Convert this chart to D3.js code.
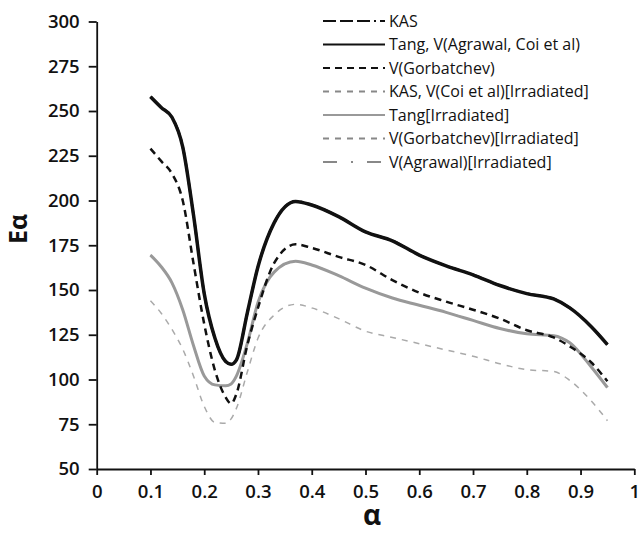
<!DOCTYPE html>
<html>
  <head>
    <meta charset="UTF-8">
    <style>
      body {
        margin: 0;
        background: white;
        font-family: "Open Sans", Helvetica, Arial, sans-serif;
      }

      .axis path, .axis line {
        stroke: #111;
        stroke-width: 1.8;
      }

      .axis text {
        font-family: "Open Sans", sans-serif;
        font-size: 18.5px;
        font-weight: 600;
        fill: #111;
      }
    </style>
    <script src="https://cdn.jsdelivr.net/npm/d3@7"></script>
  </head>

  <body>
    <svg id="Chart"></svg>

    <script type="text/javascript">
      const alphas = [0.10, 0.12, 0.14, 0.16, 0.18, 0.20, 0.22, 0.24, 0.25, 0.26, 0.28, 0.30, 0.33, 0.37,
                      0.40, 0.45, 0.50, 0.55, 0.60, 0.65, 0.70, 0.75, 0.80, 0.85, 0.88, 0.92, 0.95];

      // KAS sits under the Tang curve in the figure
      const kas = [258, 252, 246.5, 230, 192, 148, 123, 110, 108.5, 111, 137, 163, 187.5, 199.5,
                   197.5, 191, 182.5, 177.5, 169.5, 163.5, 158.5, 152.5, 148, 145, 140, 129.5, 119.5];
      const tang = [258, 252, 246.5, 230, 192, 148, 123, 110, 108.5, 111, 137, 163, 187.5, 199.5,
                    197.5, 191, 182.5, 177.5, 169.5, 163.5, 158.5, 152.5, 148, 145, 140, 129.5, 119.5];
      const gorbatchev = [229, 222, 215, 200, 165, 131, 105, 90, 86.5, 92, 119, 140, 165, 175.5,
                          173.5, 168.5, 164, 155.5, 148.5, 143.5, 139, 134, 127.5, 123.5, 118.5, 109.5, 99];
      const kasCoiIrr = [169.5, 163, 154, 139, 119, 102, 97, 96.5, 97.5, 102, 120, 143, 160, 166,
                         164, 158, 151, 145.5, 141.5, 137.5, 133, 128.5, 125.5, 124.5, 120.5, 107, 95.5];
      const tangIrr = [169.5, 163, 154, 139, 119, 102, 97, 96.5, 97.5, 102, 120, 143, 160, 166,
                       164, 158, 151, 145.5, 141.5, 137.5, 133, 128.5, 125.5, 124.5, 120.5, 107, 95.5];
      const gorbatchevIrr = [144, 137, 128, 117, 102, 85, 76, 75.5, 78, 84, 104, 123, 136, 142,
                             140, 134, 127, 123.5, 120, 116.5, 113, 108.8, 105.5, 104.5, 99.5, 88, 77];
      const agrawalIrr = [169.5, 163, 154, 139, 119, 102, 97, 96.5, 97.5, 102, 120, 143, 160, 166,
                          164, 158, 151, 145.5, 141.5, 137.5, 133, 128.5, 125.5, 124.5, 120.5, 107, 95.5];

      const xTicks = [0, 0.1, 0.2, 0.3, 0.4, 0.5, 0.6, 0.7, 0.8, 0.9, 1];
      const yTicks = [50, 75, 100, 125, 150, 175, 200, 225, 250, 275, 300];

      const seriesNames = ['KAS', 'Tang, V(Agrawal, Coi et al)', 'V(Gorbatchev)',
                           'KAS, V(Coi et al)[Irradiated]', 'Tang[Irradiated]',
                           'V(Gorbatchev)[Irradiated]', 'V(Agrawal)[Irradiated]'];

      // drawn in this order, legend keeps seriesNames order
      const series = [
        {name: seriesNames[3], values: kasCoiIrr, color: '#aaa', width: 1.5, dash: '6,6', legendDash: '6,6'},
        {name: seriesNames[6], values: agrawalIrr, color: '#bbb', width: 1.5, dash: '14,8,2,8', legendDash: '14,14,2,14'},
        {name: seriesNames[4], values: tangIrr, color: '#999', width: 3, dash: null, legendDash: null},
        {name: seriesNames[5], values: gorbatchevIrr, color: '#aaa', width: 1.5, dash: '6,6', legendDash: '6,6'},
        {name: seriesNames[2], values: gorbatchev, color: '#111', width: 2.5, dash: '7,5', legendDash: '7,5'},
        {name: seriesNames[0], values: kas, color: '#111', width: 2.5, dash: '13,5,13,5,13,5,2,4', legendDash: '13,4,13,4,13,4,2,4'},
        {name: seriesNames[1], values: tang, color: '#111', width: 3.5, dash: null, legendDash: null}
      ];

      function getConfig() {
        let width = 640;
        let height = 534;
        let container = d3.select('#Chart')
          .attr('width', width)
          .attr('height', height);
        return {width, height, container};
      }

      function getScales() {
        let xScale = d3.scaleLinear()
          .domain([0, 1])
          .range([96.7, 634.3]);
        let yScale = d3.scaleLinear()
          .domain([50, 300])
          .range([469, 21.5]);
        return {xScale, yScale};
      }

      function drawAxes(scales, config) {
        let {xScale, yScale} = scales;
        let {container} = config;

        let axisX = d3.axisBottom(xScale)
          .tickValues(xTicks)
          .tickFormat(d3.format(''))
          .tickSize(6)
          .tickSizeOuter(0)
          .tickPadding(10);
        container.append('g')
          .attr('class', 'axis')
          .attr('transform', `translate(0, ${yScale(50)})`)
          .call(axisX);

        let axisY = d3.axisLeft(yScale)
          .tickValues(yTicks)
          .tickSize(8)
          .tickSizeOuter(0)
          .tickPadding(9);
        container.append('g')
          .attr('class', 'axis')
          .attr('transform', `translate(${xScale(0)}, 0)`)
          .call(axisY);

        container.append('text')
          .attr('transform', 'translate(27, 229) rotate(-90)')
          .attr('text-anchor', 'middle')
          .style('font-family', '"Open Sans", sans-serif')
          .style('font-size', '25px')
          .style('font-weight', 'bold')
          .attr('fill', '#111')
          .text('Eα');

        container.append('text')
          .attr('x', 372)
          .attr('y', 525)
          .attr('text-anchor', 'middle')
          .style('font-family', '"Open Sans", sans-serif')
          .style('font-size', '28px')
          .style('font-weight', 'bold')
          .attr('fill', '#111')
          .text('α');
      }

      function drawLines(scales, config) {
        let {xScale, yScale} = scales;
        let {container} = config;

        let line = d3.line()
          .x((d, i) => xScale(alphas[i]))
          .y(d => yScale(d))
          .curve(d3.curveMonotoneX);

        container.append('g')
          .selectAll('path')
          .data(series)
          .enter()
          .append('path')
          .attr('d', d => line(d.values))
          .attr('fill', 'none')
          .attr('stroke', d => d.color)
          .attr('stroke-width', d => d.width)
          .attr('stroke-dasharray', d => d.dash)
          .attr('stroke-linejoin', 'round');
      }

      function drawLegend(config) {
        let {container} = config;
        let rows = seriesNames.map(name => series.find(s => s.name === name));

        let legend = container.append('g');
        let items = legend.selectAll('g')
          .data(rows)
          .enter()
          .append('g')
          .attr('transform', (d, i) => `translate(323, ${21 + i * 23.5})`);

        items.append('line')
          .attr('x1', 0)
          .attr('x2', 62)
          .attr('stroke', d => d.color === '#aaa' || d.color === '#bbb' ? '#888' : d.color)
          .attr('stroke-width', d => d.width > 3 ? 2 : 1.8)
          .attr('stroke-dasharray', d => d.legendDash);

        items.append('text')
          .attr('x', 66)
          .attr('dy', '0.35em')
          .style('font-family', '"Open Sans", sans-serif')
          .style('font-size', '16px')
          .attr('fill', '#111')
          .text(d => d.name);
      }

      function drawChart() {
        let config = getConfig();
        let scales = getScales();
        drawLines(scales, config);
        drawAxes(scales, config);
        drawLegend(config);
      }

      drawChart();
    </script>
  </body>
</html>
